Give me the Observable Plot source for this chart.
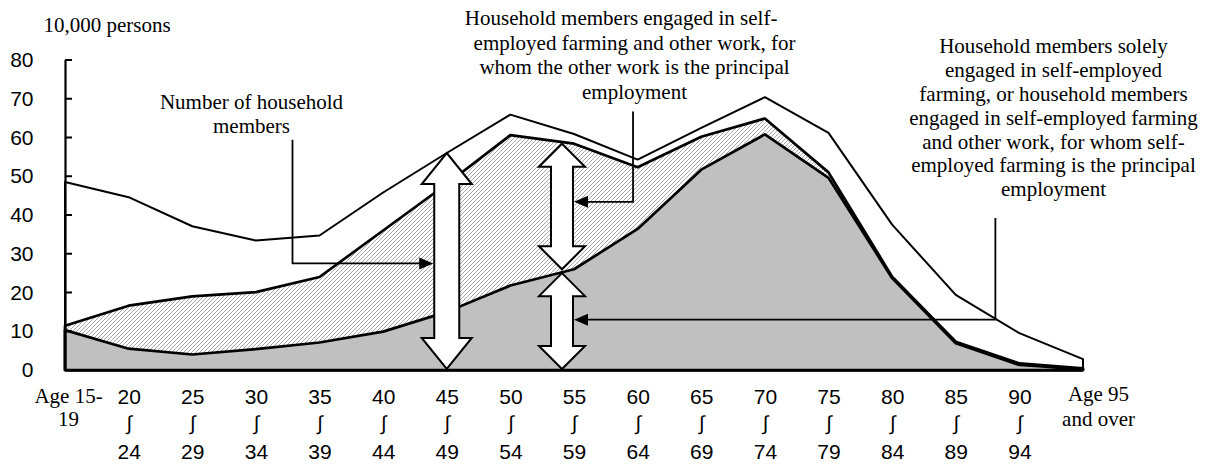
<!DOCTYPE html>
<html><head><meta charset="utf-8">
<script src="https://cdn.jsdelivr.net/npm/d3@7"></script>
<script src="https://cdn.jsdelivr.net/npm/@observablehq/plot@0.6"></script>
<style>body{margin:0;background:#fff}svg{display:block}</style>
</head><body><div id="chart"></div>
<script>
// ---- data ----
const ages = ["15-19","20-24","25-29","30-34","35-39","40-44","45-49","50-54","55-59","60-64","65-69","70-74","75-79","80-84","85-89","90-94","95+"];
const householdMembers   = [48.5,44.6,37.1,33.4,34.7,45.8,56.0,65.9,60.9,54.3,62.5,70.4,61.2,37.5,19.4,9.5,2.8];
const engagedInFarming   = [11.4,16.6,19.0,20.1,24.0,36.0,48.0,60.6,58.4,52.3,60.2,64.9,51.0,24.1,7.3,1.7,0.4];
const principallyFarming = [10.3,5.5,4.0,5.4,7.1,9.9,15.0,21.8,26.0,36.4,51.7,60.8,49.6,23.7,6.9,1.3,0.2];
const yTicks = [0,10,20,30,40,50,60,70,80];
const tickStart = ["20","25","30","35","40","45","50","55","60","65","70","75","80","85","90"];
const tickEnd   = ["24","29","34","39","44","49","54","59","64","69","74","79","84","89","94"];
const tickWave  = "∫";
const firstTick = ["Age 15-","19"];
const lastTick  = ["Age 95","and over"];
const unitLabel = "10,000 persons";
const noteTotal = ["Number of household","members"];
const noteOther = ["Household members engaged in self-","employed farming and other work, for","whom the other work is the principal","employment"];
const noteFarm  = ["Household members solely","engaged in self-employed","farming, or household members","engaged in self-employed farming","and other work, for whom self-","employed farming is the principal","employment"];

const rows = ages.map((a,i)=>({age:a, total:householdMembers[i], farm:engagedInFarming[i], principal:principallyFarming[i]}));
const serif = "Liberation Serif, Times New Roman, serif";
const sans = "Liberation Sans, Arial, sans-serif";

// hatch pattern definition
function hatchDefs() {
  const defs = d3.create("svg:defs");
  const pat = defs.append("pattern").attr("id","hatch").attr("patternUnits","userSpaceOnUse").attr("width",4).attr("height",4);
  pat.append("rect").attr("width",4).attr("height",4).attr("fill","white");
  pat.append("path").attr("d","M-1,1 l2,-2 M0,4 l4,-4 M3,5 l2,-2").attr("stroke","#a8a8a8").attr("stroke-width",1);
  return defs.node();
}

// arrows, leader lines and inward y ticks, positioned with Plot's scales
function overlay(index, scales) {
  const x = scales.x, y = scales.y;
  const g = d3.create("svg:g");
  const dbl = (cx, yTop, yBot, shaftW, headW, headH) => {
    const s = shaftW/2, h = headW/2;
    return [[cx,yTop],[cx+h,yTop+headH],[cx+s,yTop+headH],[cx+s,yBot-headH],[cx+h,yBot-headH],[cx,yBot],[cx-h,yBot-headH],[cx-s,yBot-headH],[cx-s,yTop+headH],[cx-h,yTop+headH]];
  };
  const bigX = x("45-49");
  const smallX = x("55-59") - 12;
  const arrows = [
    dbl(bigX, y(householdMembers[6]), y(0)-1, 25, 50, 31),
    dbl(smallX, y(engagedInFarming[8]), y(principallyFarming[8]), 22, 46, 23),
    dbl(smallX, y(principallyFarming[8]-1), y(0)-1, 22, 46, 23)
  ];
  const leaders = [
    {pts:[[x("35-39")-27, y(59.4)],[x("35-39")-27, y(27.5)],[bigX-12.5-1, y(27.5)]], dir:1},
    {pts:[[x("60-64")-4.6, y(66.7)],[x("60-64")-4.6, y(43.4)],[smallX+11+1, y(43.4)]], dir:-1},
    {pts:[[x("90-94")-24, y(39.2)],[x("90-94")-24, y(13.0)],[smallX+11+1, y(13.0)]], dir:-1}
  ];
  for (const l of leaders) {
    const [tx, ty] = l.pts[2];
    const pts = l.pts.slice(0,2).concat([[tx - l.dir*10, ty]]);
    g.append("path").attr("d","M"+pts.map(p=>p.join(",")).join("L")).attr("fill","none").attr("stroke","black").attr("stroke-width",1.8);
    g.append("path").attr("d",`M${tx},${ty}L${tx-l.dir*14},${ty-6}L${tx-l.dir*14},${ty+6}Z`).attr("fill","black");
  }
  for (const a of arrows) {
    g.append("path").attr("d","M"+a.map(p=>p.join(",")).join("L")+"Z").attr("fill","white").attr("stroke","black").attr("stroke-width",2);
  }
  const x0 = x(ages[0]);
  for (const t of yTicks) {
    if (t === 0) continue;
    g.append("line").attr("x1",x0).attr("x2",x0+7).attr("y1",y(t)).attr("y2",y(t)).attr("stroke","black").attr("stroke-width",2);
  }
  return g.node();
}

const plot = Plot.plot({
  width: 1214, height: 464,
  marginLeft: 65, marginRight: 131, marginTop: 60, marginBottom: 94,
  x: {type: "point", domain: ages, padding: 0, round: false, axis: null},
  y: {domain: [0, 80], round: false, axis: null},
  style: {fontFamily: sans, fontSize: "21px", background: "white", color: "black", overflow: "visible"},
  marks: [
    hatchDefs,
    Plot.areaY(rows, {x: "age", y1: 0, y2: "total", fill: "white", stroke: "black", strokeWidth: 2}),
    Plot.areaY(rows, {x: "age", y1: 0, y2: "farm", fill: "url(#hatch)", stroke: "black", strokeWidth: 2.7}),
    Plot.areaY(rows, {x: "age", y1: 0, y2: "principal", fill: "#c0c0c0", stroke: "black", strokeWidth: 2.7}),
    overlay,
    Plot.ruleY([0], {stroke: "black", strokeWidth: 2.5}),
    Plot.ruleX([ages[0]], {y1: 0, y2: 80, stroke: "black", strokeWidth: 2.2}),
    Plot.axisY({ticks: yTicks, anchor: "left", tickSize: 0, tickPadding: 32, fontSize: 21, fontFamily: sans, label: null, stroke: "none"}),
    Plot.text(ages.slice(1,-1), {x: d => d, text: (d,i) => tickStart[i], frameAnchor: "bottom", lineAnchor: "middle", dy: 27, fontSize: 21, fontFamily: sans}),
    Plot.text(ages.slice(1,-1), {x: d => d, text: () => tickWave, frameAnchor: "bottom", lineAnchor: "middle", dy: 53, fontSize: 20, fontFamily: sans}),
    Plot.text(ages.slice(1,-1), {x: d => d, text: (d,i) => tickEnd[i], frameAnchor: "bottom", lineAnchor: "middle", dy: 82, fontSize: 21, fontFamily: sans}),
    Plot.text([firstTick.join("\n")], {x: () => ages[0], dx: 3, frameAnchor: "bottom", lineAnchor: "middle", dy: 36.5, lineHeight: 1.1, fontSize: 21, fontFamily: serif}),
    Plot.text([lastTick.join("\n")], {x: () => ages[ages.length-1], dx: 15, frameAnchor: "bottom", lineAnchor: "middle", dy: 35, lineHeight: 1.2, fontSize: 21, fontFamily: serif}),
    Plot.text([unitLabel], {frameAnchor: "top-left", lineAnchor: "middle", dx: -22, dy: -35, textAnchor: "start", fontSize: 21, fontFamily: serif}),
    Plot.text([noteTotal.join("\n")], {x: () => "35-39", dx: -68.5, y: () => 66.3, lineHeight: 1.13, fontSize: 21, fontFamily: serif}),
    Plot.text([noteOther[0]], {x: () => "60-64", dx: -17, y: () => 91.0, fontSize: 21, fontFamily: serif}),
    Plot.text([noteOther.slice(1).join("\n")], {x: () => "60-64", dx: -3.6, y: () => 78.45, lineHeight: 1.16, fontSize: 21, fontFamily: serif}),
    Plot.text([noteFarm.join("\n")], {x: () => "90-94", dx: 33.6, y: () => 65.4, lineHeight: 1.135, fontSize: 21, fontFamily: serif})
  ]
});
document.getElementById("chart").appendChild(plot);
</script>
</body></html>
